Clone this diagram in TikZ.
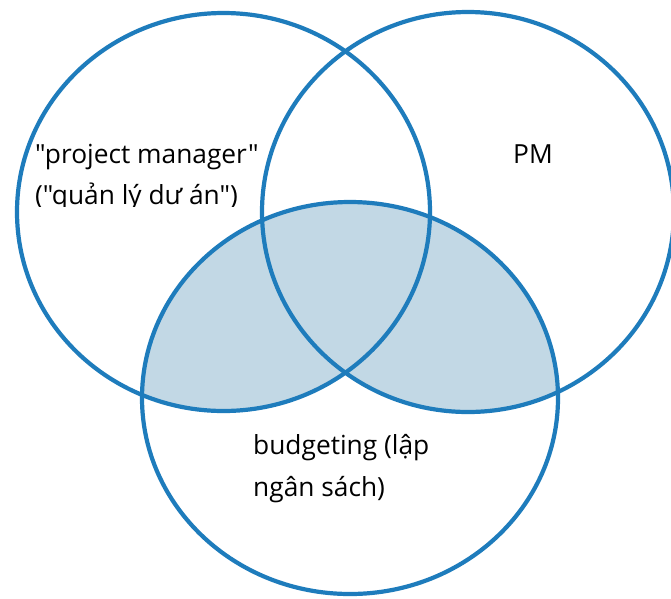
\documentclass[tikz,border=0pt]{standalone}
\usepackage{fontspec}
\setmainfont{Open Sans}[Ligatures=TeXOff]
\definecolor{vennline}{RGB}{30,124,188}
\definecolor{vennfill}{RGB}{194,216,229}
\tikzset{
  vennstroke/.style={draw=vennline, line width=4.2pt},
  lbl/.style={anchor=base west, inner sep=0pt, text=black, font=\fontsize{26.3}{40}\selectfont}
}
\begin{document}
\begin{tikzpicture}[x=1pt,y=-1pt]
\useasboundingbox (0,0) rectangle (671,598);
\fill[white] (0,0) rectangle (671,598);
\coordinate (cl) at (223.5,212);
\coordinate (cr) at (468,212);
\coordinate (cb) at (350,398);
% shaded region: bottom circle within left or right circle
\begin{scope}
  \clip (cb) ellipse [x radius=208pt, y radius=196pt];
  \fill[vennfill] (cl) ellipse [x radius=206.5pt, y radius=199pt];
  \fill[vennfill] (cr) ellipse [x radius=206pt, y radius=200pt];
\end{scope}
\draw[vennstroke] (cl) ellipse [x radius=206.5pt, y radius=199pt];
\draw[vennstroke] (cr) ellipse [x radius=206pt, y radius=200pt];
\draw[vennstroke] (cb) ellipse [x radius=208pt, y radius=196pt];
% labels
\node[lbl] (pm1) at (35,163) {"project manager"};
\begin{scope}
  \clip (0,0) rectangle (300,206.5);
  \node[lbl] (pm2) at (35,204) {("quản lý dư án")};
\end{scope}
\node[lbl] (pm) at (513,163) {PM};
\node[lbl] (bg1) at (253,454) {budgeting (lập};
\node[lbl] (bg2) at (253,496) {ngân sách)};
\end{tikzpicture}
\end{document}
